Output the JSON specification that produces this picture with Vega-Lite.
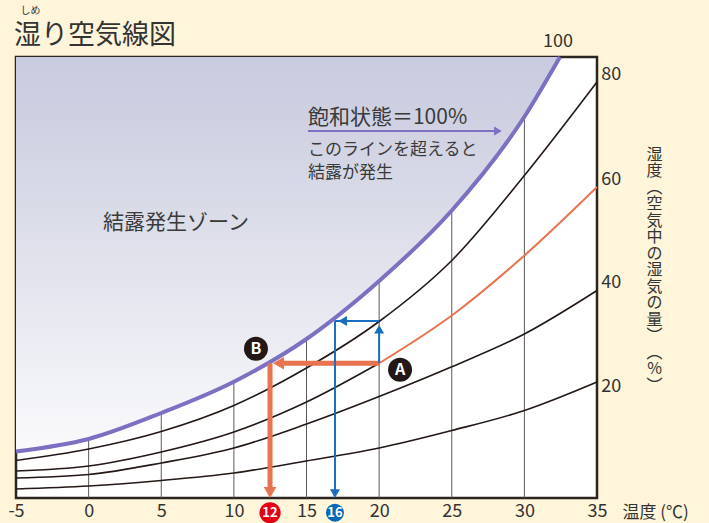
{
  "$schema": "https://vega.github.io/schema/vega-lite/v6.json",
  "width": 581,
  "height": 441,
  "autosize": {"type": "none"},
  "padding": {"left": 16, "top": 57, "right": 112, "bottom": 25},
  "title": {
    "text": "湿り空気線図",
    "anchor": "start",
    "frame": "group",
    "fontSize": 27,
    "fontWeight": "normal",
    "color": "#333333",
    "offset": 10,
    "dx": -2,
    "dy": 54
  },
  "datasets": {
    "curves": [
      {"rh": 100, "t": -5, "v": 3.72}, {"rh": 100, "t": 0, "v": 4.72}, {"rh": 100, "t": 5, "v": 6.8},
      {"rh": 100, "t": 10, "v": 9.3}, {"rh": 100, "t": 15, "v": 12.72}, {"rh": 100, "t": 20, "v": 17.36},
      {"rh": 100, "t": 25, "v": 23.0}, {"rh": 100, "t": 30, "v": 30.5}, {"rh": 100, "t": 32.45, "v": 35.28},
      {"rh": 80, "t": -5, "v": 3.0}, {"rh": 80, "t": 0, "v": 3.92}, {"rh": 80, "t": 5, "v": 5.32},
      {"rh": 80, "t": 10, "v": 7.4}, {"rh": 80, "t": 15, "v": 10.4}, {"rh": 80, "t": 20, "v": 14.12},
      {"rh": 80, "t": 25, "v": 19.0}, {"rh": 80, "t": 30, "v": 25.8}, {"rh": 80, "t": 35, "v": 33.28},
      {"rh": 60, "t": -5, "v": 2.16}, {"rh": 60, "t": 0, "v": 2.56}, {"rh": 60, "t": 5, "v": 3.68},
      {"rh": 60, "t": 10, "v": 5.28}, {"rh": 60, "t": 15, "v": 7.68}, {"rh": 60, "t": 20, "v": 10.78},
      {"rh": 60, "part": "afterA", "t": 20, "v": 10.78}, {"rh": 60, "part": "afterA", "t": 25, "v": 14.6},
      {"rh": 60, "part": "afterA", "t": 30, "v": 19.4}, {"rh": 60, "part": "afterA", "t": 35, "v": 24.88},
      {"rh": 40, "t": -5, "v": 1.6}, {"rh": 40, "t": 0, "v": 1.88}, {"rh": 40, "t": 5, "v": 2.8},
      {"rh": 40, "t": 10, "v": 4.0}, {"rh": 40, "t": 15, "v": 5.92}, {"rh": 40, "t": 20, "v": 8.12},
      {"rh": 40, "t": 25, "v": 10.5}, {"rh": 40, "t": 30, "v": 13.12}, {"rh": 40, "t": 35, "v": 16.6},
      {"rh": 20, "t": -5, "v": 0.72}, {"rh": 20, "t": 0, "v": 0.96}, {"rh": 20, "t": 5, "v": 1.4},
      {"rh": 20, "t": 10, "v": 2.0}, {"rh": 20, "t": 15, "v": 2.96}, {"rh": 20, "t": 20, "v": 4.0},
      {"rh": 20, "t": 25, "v": 5.4}, {"rh": 20, "t": 30, "v": 7.0}, {"rh": 20, "t": 35, "v": 9.28}
    ],
    "grid": [
      {"t": 0, "v": 4.72}, {"t": 5, "v": 6.8}, {"t": 10, "v": 9.3}, {"t": 15, "v": 12.72},
      {"t": 20, "v": 17.36}, {"t": 25, "v": 23.0}, {"t": 30, "v": 30.5}
    ],
    "shafts": [
      {"path": "dew", "t": 20, "v": 10.78, "t2": 13.07, "v2": 10.78},
      {"path": "dew", "t": 12.49, "v": 10.78, "t2": 12.49, "v2": 0.5},
      {"path": "wall", "t": 20, "v": 10.78, "t2": 20, "v2": 13.5},
      {"path": "wall", "t": 20, "v": 14.16, "t2": 16.96, "v2": 14.16},
      {"path": "wall", "t": 16.96, "v": 14.16, "t2": 16.96, "v2": 0.4},
      {"path": "sat", "t": 15.1, "v": 29.36, "t2": 28.18, "v2": 29.36}
    ],
    "heads": [
      {"path": "dew", "dir": "left", "t": 13.07, "v": 10.78},
      {"path": "dew", "dir": "down", "t": 12.49, "v": 0.44},
      {"path": "wall", "dir": "up", "t": 20, "v": 13.5},
      {"path": "wall", "dir": "left", "t": 17.49, "v": 14.16},
      {"path": "wall", "dir": "down", "t": 16.96, "v": 0.35},
      {"path": "sat", "dir": "right", "t": 28.18, "v": 29.36}
    ],
    "badges": [
      {"kind": "point", "label": "A", "t": 21.44, "v": 10.26},
      {"kind": "point", "label": "B", "t": 11.52, "v": 11.94},
      {"kind": "dewpoint", "label": "12", "t": 12.49, "v": -1.18},
      {"kind": "surface", "label": "16", "t": 16.96, "v": -1.18}
    ],
    "rhLabels": [
      {"label": "100", "t": 31.28, "v": 36.48},
      {"label": "80", "t": 35.3, "v": 33.84},
      {"label": "60", "t": 35.3, "v": 25.44},
      {"label": "40", "t": 35.3, "v": 17.2},
      {"label": "20", "t": 35.3, "v": 8.88}
    ],
    "notes": [
      {"role": "label", "text": "飽和状態＝100%", "t": 15.1, "v": 30.4},
      {"role": "caption", "text": "このラインを超えると", "t": 15.1, "v": 27.84},
      {"role": "caption", "text": "結露が発生", "t": 15.1, "v": 26.0},
      {"role": "label", "text": "結露発生ゾーン", "t": 0.99, "v": 22.0},
      {"role": "ruby", "text": "しめ", "t": -4.0, "v": 39.0}
    ]
  },
  "encoding": {
    "x": {
      "field": "t",
      "type": "quantitative",
      "scale": {"domain": [-5, 35], "nice": false, "zero": false},
      "axis": {
        "values": [-5, 0, 5, 10, 15, 20, 25, 30, 35],
        "labelExpr": "datum.value < 0 ? '-' + abs(datum.value) : datum.label",
        "ticks": false,
        "domain": false,
        "grid": false,
        "labelFlush": false,
        "labelFontSize": 18,
        "labelColor": "#333333",
        "labelPadding": 4,
        "title": "温度 (℃)",
        "titleX": 606,
        "titleY": 14,
        "titleAlign": "left",
        "titleBaseline": "middle",
        "titleAngle": 0,
        "titleFontSize": 17,
        "titleFontWeight": "normal",
        "titleColor": "#333333"
      }
    },
    "y": {
      "field": "v",
      "type": "quantitative",
      "scale": {"domain": [0, 35.28], "nice": false, "zero": false},
      "axis": {
        "orient": "right",
        "labels": false,
        "ticks": false,
        "domain": false,
        "grid": false,
        "title": ["湿", "度", "︵", "空", "気", "中", "の", "湿", "気", "の", "量", "︶", "︵", "%", "︶"],
        "titleAngle": 0,
        "titleAlign": "center",
        "titleBaseline": "top",
        "titleX": 57,
        "titleY": 89,
        "titleFontSize": 16,
        "titleLineHeight": 16.5,
        "titleFontWeight": "normal",
        "titleColor": "#333333"
      }
    }
  },
  "layer": [
    {
      "data": {"name": "curves"},
      "transform": [{"filter": "datum.rh == 100"}],
      "mark": {
        "type": "area",
        "interpolate": "monotone",
        "color": {
          "gradient": "linear",
          "x1": 0, "y1": 0, "x2": 0, "y2": 1,
          "stops": [
            {"offset": 0, "color": "#c8cadf"},
            {"offset": 0.4, "color": "#dadce8"},
            {"offset": 0.75, "color": "#edeef4"},
            {"offset": 1, "color": "#fafafc"}
          ]
        }
      },
      "encoding": {"y2": {"datum": 35.28}}
    },
    {
      "data": {"name": "grid"},
      "mark": {"type": "rule", "color": "#5a5a5a", "strokeWidth": 1},
      "encoding": {"y2": {"datum": 0}}
    },
    {
      "data": {"name": "curves"},
      "transform": [{"filter": "datum.rh != 100 && datum.part != 'afterA'"}],
      "mark": {"type": "line", "interpolate": "monotone", "color": "#231815", "strokeWidth": 1.6},
      "encoding": {"detail": {"field": "rh", "type": "nominal"}}
    },
    {
      "data": {"name": "curves"},
      "transform": [{"filter": "datum.part == 'afterA'"}],
      "mark": {"type": "line", "interpolate": "monotone", "color": "#e8734f", "strokeWidth": 2}
    },
    {
      "data": {"name": "curves"},
      "transform": [{"filter": "datum.rh == 100"}],
      "mark": {"type": "line", "interpolate": "monotone", "color": "#7b70c2", "strokeWidth": 4}
    },
    {
      "data": {"name": "shafts"},
      "transform": [{"filter": "datum.path == 'dew'"}],
      "mark": {"type": "rule", "color": "#e8734f", "strokeWidth": 5},
      "encoding": {"x2": {"field": "t2"}, "y2": {"field": "v2"}}
    },
    {
      "data": {"name": "shafts"},
      "transform": [{"filter": "datum.path == 'wall'"}],
      "mark": {"type": "rule", "color": "#1a6ebf", "strokeWidth": 2},
      "encoding": {"x2": {"field": "t2"}, "y2": {"field": "v2"}}
    },
    {
      "data": {"name": "shafts"},
      "transform": [{"filter": "datum.path == 'sat'"}],
      "mark": {"type": "rule", "color": "#7b70c2", "strokeWidth": 2},
      "encoding": {"x2": {"field": "t2"}, "y2": {"field": "v2"}}
    },
    {
      "data": {"name": "heads"},
      "transform": [{"filter": "datum.path == 'dew'"}],
      "mark": {"type": "point", "filled": true, "opacity": 1, "color": "#e8734f", "size": 160},
      "encoding": {
        "shape": {
          "field": "dir", "type": "nominal", "legend": null,
          "scale": {"domain": ["up", "down", "left", "right"], "range": ["triangle-up", "triangle-down", "triangle-left", "triangle-right"]}
        }
      }
    },
    {
      "data": {"name": "heads"},
      "transform": [{"filter": "datum.path == 'wall'"}],
      "mark": {"type": "point", "filled": true, "opacity": 1, "color": "#1a6ebf", "size": 100},
      "encoding": {
        "shape": {
          "field": "dir", "type": "nominal", "legend": null,
          "scale": {"domain": ["up", "down", "left", "right"], "range": ["triangle-up", "triangle-down", "triangle-left", "triangle-right"]}
        }
      }
    },
    {
      "data": {"name": "heads"},
      "transform": [{"filter": "datum.path == 'sat'"}],
      "mark": {"type": "point", "filled": true, "opacity": 1, "color": "#7b70c2", "size": 80},
      "encoding": {
        "shape": {
          "field": "dir", "type": "nominal", "legend": null,
          "scale": {"domain": ["up", "down", "left", "right"], "range": ["triangle-up", "triangle-down", "triangle-left", "triangle-right"]}
        }
      }
    },
    {
      "data": {"name": "badges"},
      "mark": {"type": "point", "shape": "circle", "filled": true, "opacity": 1},
      "encoding": {
        "color": {
          "field": "kind", "type": "nominal", "legend": null,
          "scale": {"domain": ["point", "dewpoint", "surface"], "range": ["#231815", "#e50012", "#0068b7"]}
        },
        "size": {
          "field": "kind", "type": "nominal", "legend": null,
          "scale": {"domain": ["point", "dewpoint", "surface"], "range": [576, 324, 324]}
        }
      }
    },
    {
      "data": {"name": "badges"},
      "transform": [{"filter": "datum.kind == 'point'"}],
      "mark": {"type": "text", "color": "white", "fontSize": 16, "fontWeight": "bold", "align": "center", "baseline": "middle", "font": "Noto Sans CJK JP"},
      "encoding": {"text": {"field": "label"}}
    },
    {
      "data": {"name": "badges"},
      "transform": [{"filter": "datum.kind != 'point'"}],
      "mark": {"type": "text", "color": "white", "fontSize": 13, "fontWeight": "bold", "align": "center", "baseline": "middle", "font": "Noto Sans CJK JP"},
      "encoding": {"text": {"field": "label"}}
    },
    {
      "data": {"name": "rhLabels"},
      "mark": {"type": "text", "color": "#333333", "fontSize": 18, "align": "left", "baseline": "middle", "font": "Noto Sans CJK JP"},
      "encoding": {"text": {"field": "label"}}
    },
    {
      "data": {"name": "notes"},
      "transform": [{"filter": "datum.role == 'label'"}],
      "mark": {"type": "text", "color": "#3a3a3a", "fontSize": 21, "fontWeight": "normal", "align": "left", "baseline": "middle", "font": "Noto Sans CJK JP"},
      "encoding": {"text": {"field": "text"}}
    },
    {
      "data": {"name": "notes"},
      "transform": [{"filter": "datum.role == 'caption'"}],
      "mark": {"type": "text", "color": "#3a3a3a", "fontSize": 17, "align": "left", "baseline": "middle", "font": "Noto Sans CJK JP"},
      "encoding": {"text": {"field": "text"}}
    },
    {
      "data": {"name": "notes"},
      "transform": [{"filter": "datum.role == 'ruby'"}],
      "mark": {"type": "text", "color": "#333333", "fontSize": 10, "align": "center", "baseline": "middle", "font": "Noto Sans CJK JP"},
      "encoding": {"text": {"field": "text"}}
    }
  ],
  "config": {
    "background": "#fef5da",
    "font": "Noto Sans CJK JP",
    "view": {"fill": "white", "stroke": "#2b2420", "strokeWidth": 2.5}
  }
}
